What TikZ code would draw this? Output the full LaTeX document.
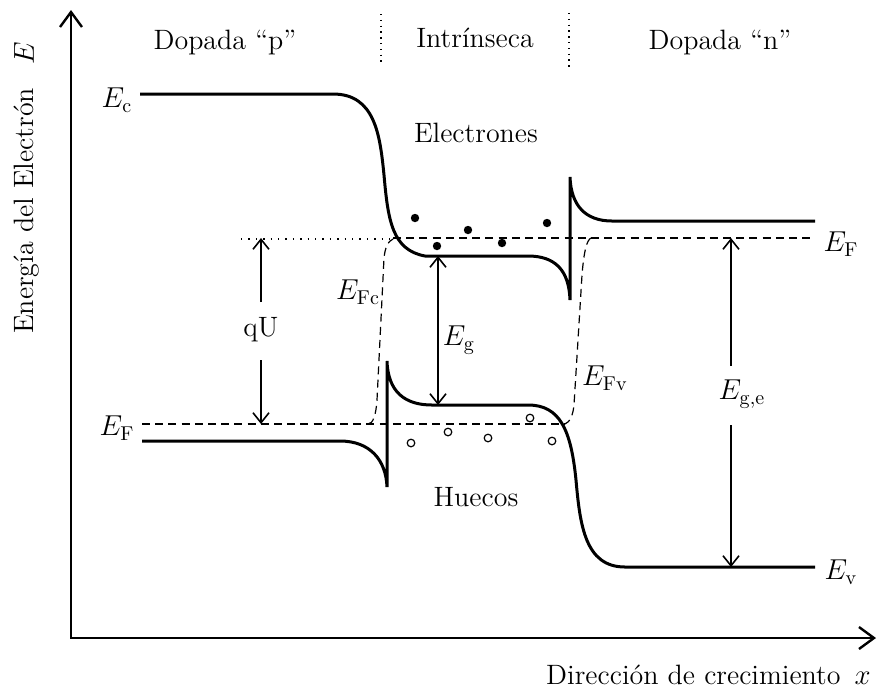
\documentclass[tikz,border=0pt]{standalone}
\usetikzlibrary{arrows.meta}
\begin{document}
\begin{tikzpicture}[x=0.5pt,y=-0.5pt,
  band/.style={line width=1.5pt},
  axis/.style={line width=1.2pt,-{Straight Barb[length=7.5pt,width=11pt,line width=1.2pt]}},
  fermi/.style={line width=0.6pt,dash pattern=on 4pt off 2.6pt},
  dotline/.style={line width=0.7pt,dash pattern=on 0.7pt off 3pt},
  sep/.style={line width=0.6pt,dash pattern=on 0.7pt off 2.2pt},
  marrow/.style={line width=0.8pt,-{Straight Barb[length=5pt,width=8pt,line width=0.8pt]}},
  darrow/.style={line width=0.8pt,{Straight Barb[length=5pt,width=8pt,line width=0.8pt]}-{Straight Barb[length=5pt,width=8pt,line width=0.8pt]}},
  lbl/.style={font=\fontsize{14}{16}\selectfont,inner sep=1pt},
  elec/.style={circle,fill=black,inner sep=0pt,minimum size=4.2pt},
  hole/.style={circle,draw=black,line width=0.6pt,inner sep=0pt,minimum size=3.8pt}]
\useasboundingbox (0,0) rectangle (878,693);

% axes
\coordinate (O) at (71,638);
\coordinate (ytip) at (71,10);
\coordinate (xtip) at (876,638);
\draw[axis] (O) -- (ytip);
\draw[axis] (70.4,638) -- (xtip);
\node[lbl,rotate=90] (ylab) at (27,188) {Energía del Electrón\enspace\ $E$};
\node[lbl,anchor=east] (xlab) at (873,675) {Dirección de crecimiento\enspace $x$};

% region labels and separators
\node[lbl] (dp) at (225,42) {Dopada ``p''};
\node[lbl] (in) at (475,38) {Intrínseca};
\node[lbl] (dn) at (720,42) {Dopada ``n''};
\coordinate (s1a) at (381,14); \coordinate (s1b) at (381,64);
\coordinate (s2a) at (569,13); \coordinate (s2b) at (569,68);
\draw[sep] (s1a) -- (s1b);
\draw[sep] (s2a) -- (s2b);

\node[lbl] (elecs) at (476,133) {Electrones};
\node[lbl] (huecos) at (476,497) {Huecos};

% conduction band
\draw[band] (140,94) -- (333,94)
  .. controls (375,94) and (380,135) .. (384,175)
  .. controls (388,220) and (392,250) .. (425,256)
  -- (528,256)
  .. controls (555,256) and (569,270) .. (570,300)
  -- (570,177)
  .. controls (571,205) and (585,221) .. (612,221)
  -- (815,221);

% valence band
\draw[band] (142,441) -- (340,441)
  .. controls (370,441) and (386,460) .. (387,487)
  -- (387,361)
  .. controls (388,392) and (405,405) .. (432,405)
  -- (528,405)
  .. controls (560,405) and (571,430) .. (576,480)
  .. controls (580,525) and (585,567) .. (625,567)
  -- (815,567);

% Fermi levels
\draw[fermi] (142,424) -- (565,424);
\draw[fermi] (393,238) -- (815,238);
\draw[dotline] (241,239) -- (393,239);
% quasi-Fermi E_Fc
\draw[fermi] (368,424) .. controls (373,424) and (376,415) .. (377,400)
  -- (384,258) .. controls (385,248) and (388,241) .. (393,239);
% quasi-Fermi E_Fv
\draw[fermi] (591,238) .. controls (587,240) and (584,250) .. (582,275)
  -- (574,405) .. controls (573,415) and (570,422) .. (565,424);

% electrons
\node[elec] (e1) at (415,218) {};
\node[elec] (e2) at (437,246) {};
\node[elec] (e3) at (468,230) {};
\node[elec] (e4) at (502,243) {};
\node[elec] (e5) at (547,223) {};
% holes
\node[hole] (h1) at (411,443) {};
\node[hole] (h2) at (448,432) {};
\node[hole] (h3) at (488,438) {};
\node[hole] (h4) at (530,418) {};
\node[hole] (h5) at (552,441) {};

% level labels
\node[lbl] (Ec) at (117,100) {$E_{\mathrm{c}}$};
\node[lbl] (EFl) at (117,428) {$E_{\mathrm{F}}$};
\node[lbl] (EFr) at (841,244) {$E_{\mathrm{F}}$};
\node[lbl] (Ev) at (841,572) {$E_{\mathrm{v}}$};
\node[lbl] (EFc) at (358,292) {$E_{\mathrm{Fc}}$};
\node[lbl] (EFv) at (605,378) {$E_{\mathrm{Fv}}$};

% qU
\node[lbl] (qU) at (261,330) {qU};
\coordinate (qUt) at (261,238);
\coordinate (qUa) at (261,302);
\coordinate (qUb) at (261,360);
\coordinate (qUd) at (261,424);
\draw[marrow] (qUa) -- (qUt);
\draw[marrow] (qUb) -- (qUd);

% Eg
\coordinate (Egt) at (438,256);
\coordinate (Egb) at (438,405);
\draw[darrow] (Egt) -- (Egb);
\node[lbl] (Eg) at (459,340) {$E_{\mathrm{g}}$};

% Eg,e
\node[lbl] (Ege) at (742,394) {$E_{\mathrm{g,e}}$};
\coordinate (Eget) at (731,238);
\coordinate (Egea) at (731,366);
\coordinate (Egeb) at (731,425);
\coordinate (Egebot) at (731,567);
\draw[marrow] (Egea) -- (Eget);
\draw[marrow] (Egeb) -- (Egebot);
\end{tikzpicture}
\end{document}
